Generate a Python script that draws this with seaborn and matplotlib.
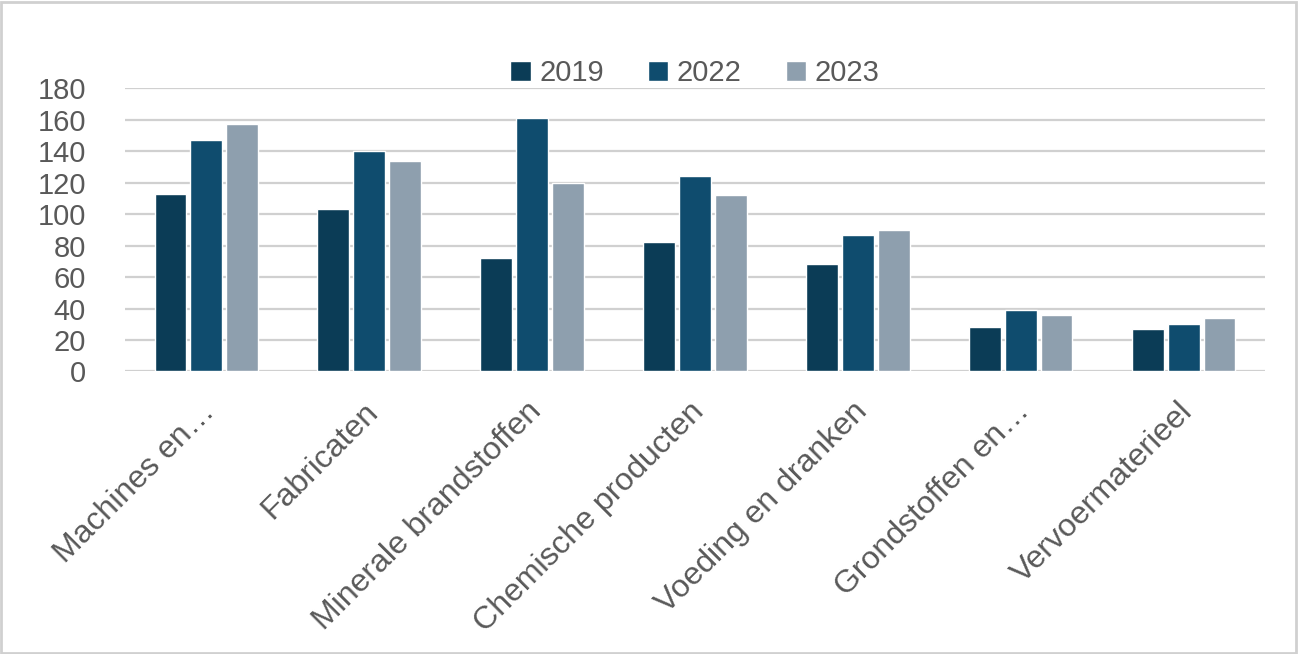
import pandas as pd
import seaborn as sns
import matplotlib.pyplot as plt
import matplotlib.transforms as mtransforms
from matplotlib.patches import Rectangle

# categories and values per year
categories = ['Machines en…', 'Fabricaten', 'Minerale brandstoffen', 'Chemische producten',
              'Voeding en dranken', 'Grondstoffen en…', 'Vervoermaterieel']
years = ['2019', '2022', '2023']
v2019 = [113, 103, 72, 82, 68, 28, 27]
v2022 = [147, 140, 161, 124, 87, 39, 30]
v2023 = [157, 134, 120, 112, 90, 36, 34]
colors = ['#0b3c56', '#0f4c6e', '#8e9fae']

df = pd.DataFrame({'cat': categories * 3,
                   'year': [y for y in years for _ in categories],
                   'value': v2019 + v2022 + v2023})

sns.set_style('white')
plt.rcParams['font.family'] = ['Liberation Sans', 'DejaVu Sans']
text_col = '#595959'

fig = plt.figure(figsize=(12.99, 6.54), dpi=100)
ax = fig.add_axes([0.096, 0.432, 0.878, 0.433])

sns.barplot(data=df, x='cat', y='value', hue='year', palette=colors,
            width=0.66, gap=0.12, ax=ax, saturation=1)

ax.set_ylim(0, 180)
ax.set_yticks(range(0, 181, 20))
ax.yaxis.grid(True, color='#d0d0d0', linewidth=1.6)
ax.set_axisbelow(True)
for s in ax.spines.values():
    s.set_visible(False)
ax.set_xlabel('')
ax.set_ylabel('')
ax.tick_params(axis='y', length=0, labelsize=21, colors=text_col, pad=28)
ax.tick_params(axis='x', length=0, labelsize=23, colors=text_col, pad=18)
# nudge rotated labels a bit to the left
shift = mtransforms.ScaledTranslation(-6 / 100, 0, fig.dpi_scale_trans)
for lab in ax.get_xticklabels():
    lab.set_rotation(45)
    lab.set_ha('right')
    lab.set_rotation_mode('anchor')
    lab.set_transform(lab.get_transform() + shift)
ax.set_xlim(-0.5, len(categories) - 0.5)

ax.legend(loc='lower center', bbox_to_anchor=(0.5, 0.962), ncol=3, frameon=False,
          fontsize=21, labelcolor=text_col, handlelength=0.7, handleheight=0.7,
          handletextpad=0.3, columnspacing=1.5, borderaxespad=0.0)

fig.patches.append(Rectangle((0.001, 0.002), 0.997, 0.995, transform=fig.transFigure,
                             fill=False, edgecolor='#d0d0d0', linewidth=2))

fig.savefig('out.png', dpi=100)
